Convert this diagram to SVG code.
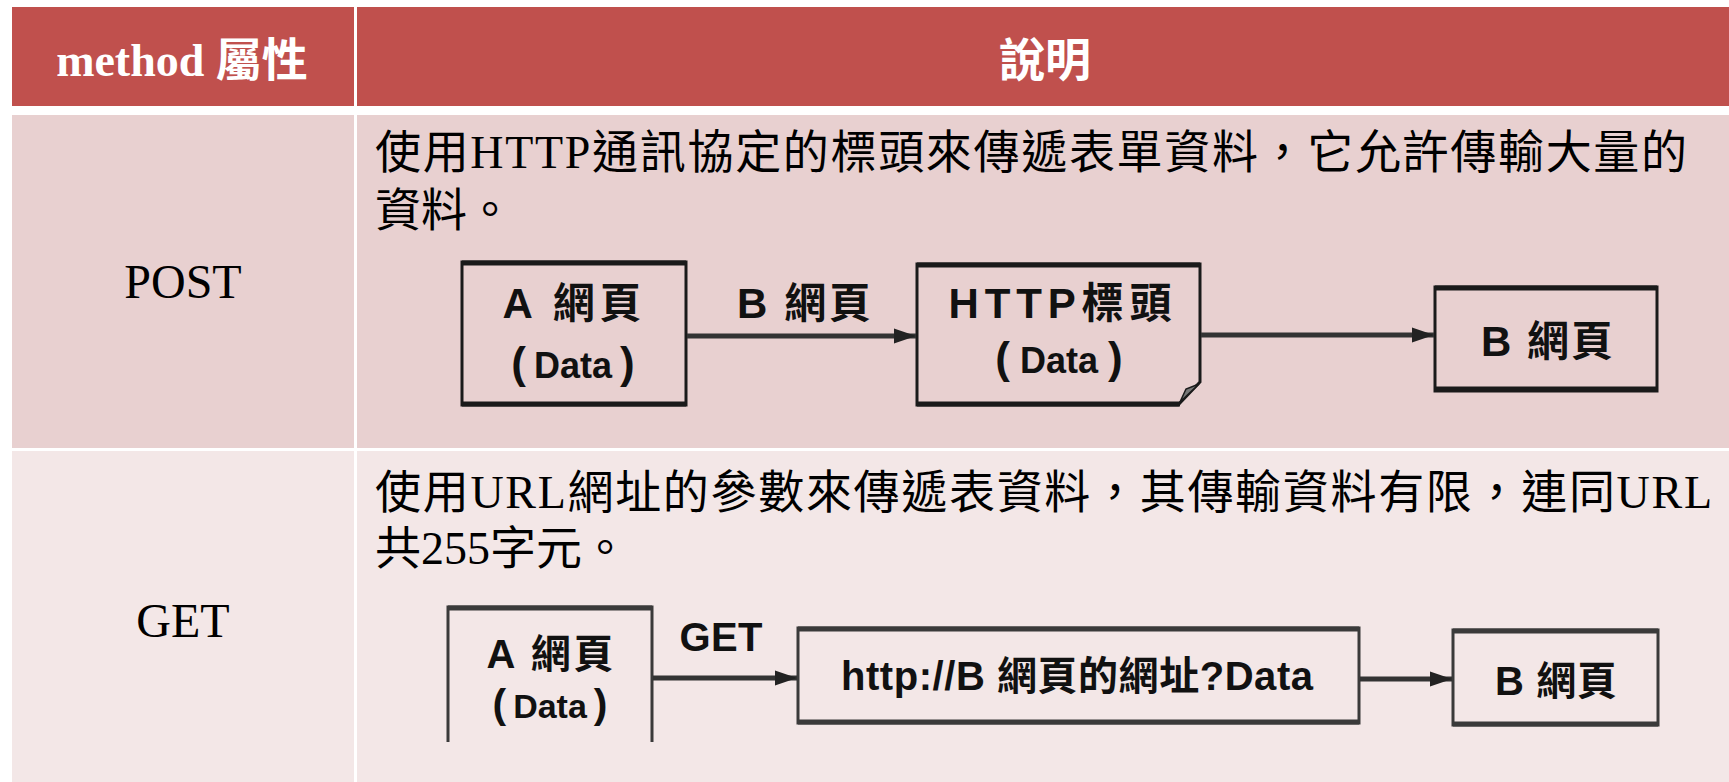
<svg xmlns="http://www.w3.org/2000/svg" width="1729" height="782" viewBox="0 0 1729 782">
<style>
.hd{fill:#C0504D}
.r1{fill:#E8D0D0}
.r2{fill:#F3E7E7}
.ht{font-family:"Liberation Serif","Noto Sans CJK TC",serif;font-weight:bold;font-size:46px;fill:#fff}
.lb{font-family:"Liberation Serif","Noto Sans CJK TC",serif;font-size:48px;fill:#000}
.ds{font-family:"Liberation Serif","Noto Sans CJK TC",serif;font-size:46px;fill:#000}
.dg{font-family:"Liberation Sans","Noto Sans CJK TC",sans-serif;font-weight:bold;fill:#111}
.pr{font-size:44px}
.box{fill:none;stroke:#1a1a1a;stroke-width:3}
.edge{stroke:#1a1a1a;stroke-width:5}
.gbox{fill:none;stroke:#3a3a3a;stroke-width:3}
.gedge{stroke:#3a3a3a;stroke-width:5}
.conn{stroke:#333;stroke-width:5;fill:none;marker-end:url(#ah)}
</style>
<defs>
<marker id="ah" markerUnits="userSpaceOnUse" markerWidth="24" markerHeight="18" refX="22" refY="9" orient="auto">
<path d="M0,1.5 L22,9 L0,16.5 Z" fill="#222"/>
</marker>
</defs>
<rect width="1729" height="782" fill="#fff"/>
<g id="table">
<rect class="hd" x="12" y="7" width="342" height="99"/>
<rect class="hd" x="357" y="7" width="1372" height="99"/>
<rect class="r1" x="12" y="115" width="342" height="333"/>
<rect class="r1" x="357" y="115" width="1372" height="333"/>
<rect class="r2" x="12" y="451" width="342" height="331"/>
<rect class="r2" x="357" y="451" width="1372" height="331"/>
<text class="ht" x="182" y="76" text-anchor="middle">method 屬性</text>
<text class="ht" x="1045" y="76" text-anchor="middle">說明</text>
<text class="lb" x="183" y="298" text-anchor="middle">POST</text>
<text class="lb" x="183" y="637" text-anchor="middle">GET</text>
<text class="ds" x="375" y="168" textLength="1312">使用HTTP通訊協定的標頭來傳遞表單資料，它允許傳輸大量的</text>
<text class="ds" x="375" y="226">資料。</text>
<text class="ds" x="375" y="508" textLength="1337">使用URL網址的參數來傳遞表資料，其傳輸資料有限，連同URL</text>
<text class="ds" x="375" y="564">共255字元。</text>
</g>
<g id="post-a">
<rect class="box" x="462" y="262" width="224" height="143"/>
<line class="edge" x1="462" y1="263" x2="686" y2="263"/>
<line class="edge" x1="462" y1="404" x2="686" y2="404"/>
<text class="dg" x="572" y="318" font-size="42" text-anchor="middle" textLength="139">A 網頁</text>
<text class="dg" x="573" y="378" font-size="36" text-anchor="middle"><tspan class="pr">(</tspan><tspan dx="8">Data</tspan><tspan class="pr" dx="8">)</tspan></text>
</g>
<g id="post-label">
<text class="dg" x="804" y="318" font-size="42" text-anchor="middle" textLength="134">B 網頁</text>
</g>
<g id="post-http">
<path class="box" d="M917,264 H1200 V382 L1178,405 H917 Z"/>
<line class="edge" x1="917" y1="265" x2="1200" y2="265"/>
<line class="edge" x1="917" y1="404" x2="1180" y2="404"/>
<path d="M1199,384 L1186,389 L1180,402 Z" fill="#777" stroke="#1a1a1a" stroke-width="1.5"/>
<text class="dg" x="1060" y="318" font-size="42" text-anchor="middle" textLength="223">HTTP標頭</text>
<text class="dg" x="1059" y="373" font-size="36" text-anchor="middle"><tspan class="pr">(</tspan><tspan dx="10">Data</tspan><tspan class="pr" dx="10">)</tspan></text>
</g>
<g id="post-b">
<rect class="box" x="1435" y="287" width="222" height="104"/>
<line class="edge" x1="1435" y1="288" x2="1657" y2="288"/>
<line class="edge" x1="1435" y1="389" x2="1657" y2="389"/>
<text class="dg" x="1547" y="356" font-size="42" text-anchor="middle" textLength="132">B 網頁</text>
</g>
<g id="get-a">
<path class="gbox" d="M448,742 V607 H652 V742"/>
<line class="gedge" x1="448" y1="608" x2="652" y2="608"/>
<text class="dg" x="550" y="668" font-size="40" text-anchor="middle" textLength="127">A 網頁</text>
<text class="dg" x="550" y="718" font-size="34" text-anchor="middle"><tspan font-size="41">(</tspan><tspan dx="7">Data</tspan><tspan font-size="41" dx="7">)</tspan></text>
</g>
<g id="get-label">
<text class="dg" x="721" y="651" font-size="40" text-anchor="middle" textLength="83">GET</text>
</g>
<g id="get-url">
<rect class="gbox" x="798" y="628" width="561" height="95"/>
<line class="gedge" x1="798" y1="629" x2="1359" y2="629"/>
<line class="gedge" x1="798" y1="722" x2="1359" y2="722"/>
<text class="dg" x="1077" y="690" font-size="40" text-anchor="middle" textLength="472">http://B 網頁的網址?Data</text>
</g>
<g id="get-b">
<rect class="gbox" x="1453" y="630" width="205" height="95"/>
<line class="gedge" x1="1453" y1="631" x2="1658" y2="631"/>
<line class="gedge" x1="1453" y1="724" x2="1658" y2="724"/>
<text class="dg" x="1556" y="695" font-size="40" text-anchor="middle" textLength="122">B 網頁</text>
</g>
<g id="connectors">
<line class="conn" x1="687" y1="336" x2="916" y2="336"/>
<line class="conn" x1="1201" y1="335" x2="1434" y2="335"/>
<line class="conn" x1="653" y1="678" x2="797" y2="678"/>
<line class="conn" x1="1360" y1="679" x2="1452" y2="679"/>
</g>
</svg>
